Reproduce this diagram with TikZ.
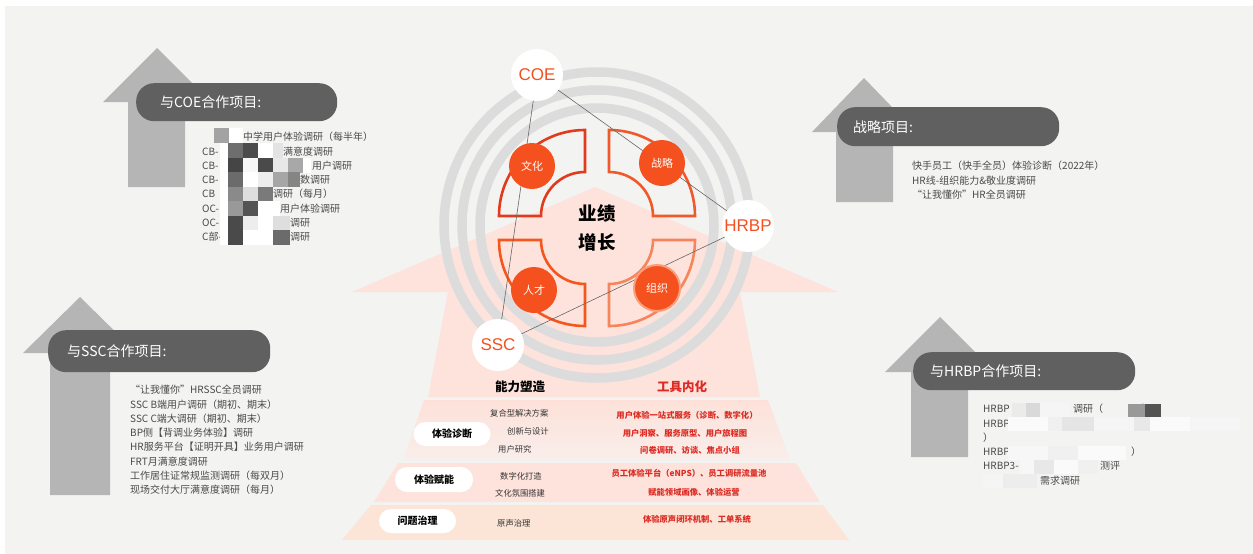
\documentclass[tikz,border=0pt]{standalone}
\usepackage{fontspec}
\setmainfont{Noto Sans CJK SC}
\newfontfamily\latinsans{Liberation Sans}
\pgfdeclarelayer{back}
\pgfdeclarelayer{mid}
\pgfsetlayers{back,mid,main}
\newcommand\fsz[1]{\fontsize{#1pt}{#1pt}\selectfont}
\definecolor{bggray}{HTML}{F3F3F2}
\definecolor{arrowgray}{HTML}{B5B5B5}
\definecolor{pillgray}{HTML}{606060}
\definecolor{pinkbg}{HTML}{FDE3DC}
\definecolor{bandtop}{HTML}{FDE1D9}
\definecolor{bandbot}{HTML}{F9EEEB}
\definecolor{bandpeach}{HTML}{FCE5D7}
\definecolor{ringgray}{HTML}{DCDCDC}
\definecolor{orangec}{HTML}{F4511E}
\definecolor{redtext}{HTML}{DD2A22}
\definecolor{segA}{HTML}{E23A1C}
\definecolor{segB}{HTML}{F05A2A}
\definecolor{segC}{HTML}{F4561D}
\definecolor{segD}{HTML}{F7845A}
\definecolor{halo}{HTML}{F8A07E}
\definecolor{listgray}{HTML}{4A4A4A}
\begin{document}
\begin{tikzpicture}[x=1pt,y=-1pt,
  every node/.style={inner sep=0pt},
  sidearrow/.style={fill=arrowgray},
  pill/.style={rectangle, rounded corners=18pt, fill=pillgray, text=white,
    minimum height=38pt, align=left, font=\fsz{14}, anchor=north west},
  listtext/.style={anchor=north west, align=left, text=listgray,
    font=\fontsize{10pt}{14.3pt}\selectfont},
  ring/.style={draw=ringgray, line width=9.5pt},
  seg/.style={line width=2.6pt, line join=miter},
  bigc/.style={circle, fill=white, minimum size=52pt, text=orangec,
    font=\latinsans\fsz{17}},
  smallc/.style={circle, fill=orangec, minimum size=46pt, text=white,
    font=\fsz{11}},
  conn/.style={draw=black!60, line width=0.6pt},
  wpill/.style={rectangle, rounded corners=12pt, fill=white,
    font=\bfseries\fsz{10}},
  lefttext/.style={anchor=west, text=black!80, font=\fsz{8.3}},
  redt/.style={text=redtext, font=\bfseries\fsz{8.3}},
  coltitle/.style={font=\bfseries\fsz{12.5}}
]
\useasboundingbox (0,0) rectangle (1253,554);

\begin{pgfonlayer}{back}
\fill[bggray] (5,6) rectangle (1253,554);

% side arrows
\fill[sidearrow] (157,48) -- (211,102) -- (185,102) -- (185,187) -- (128,187) -- (128,102) -- (103,102) -- cycle;
\fill[sidearrow] (864,78) -- (916,132) -- (893,132) -- (893,202) -- (836,202) -- (836,132) -- (812,132) -- cycle;
\fill[sidearrow] (80,297) -- (137,353) -- (110,353) -- (110,495) -- (50,495) -- (50,353) -- (23,353) -- cycle;
\fill[sidearrow] (940,317) -- (995,372) -- (968,372) -- (968,457) -- (911,457) -- (911,372) -- (885,372) -- cycle;

% central pink arrow and pyramid bands
\fill[pinkbg] (352,292) -- (595,187) -- (838,292) -- (740,292) -- (760,397) -- (428,397) -- (448,292) -- cycle;
\shade[top color=bandtop, bottom color=bandbot] (424,400) -- (768,400) -- (790,460) -- (403,460) -- cycle;
\fill[pinkbg] (398,463) -- (796,463) -- (820,502) -- (374,502) -- cycle;
\fill[bandpeach] (371,505) -- (823,505) -- (849,540) -- (342,540) -- cycle;

% rings
\draw[ring] (597,225) circle[radius=153];
\draw[ring] (597,225) circle[radius=135];
\draw[ring] (597,225) circle[radius=117];

% four segments
\draw[seg, draw=segA] (585,130) arc[start angle=270, end angle=180, radius=86] -- (541,216) arc[start angle=180, end angle=270, radius=44] -- cycle;
\draw[seg, draw=segB] (609,130) arc[start angle=270, end angle=360, radius=86] -- (653,216) arc[start angle=360, end angle=270, radius=44] -- cycle;
\draw[seg, draw=segC] (499,240) arc[start angle=180, end angle=90, radius=86] -- (585,284) arc[start angle=90, end angle=180, radius=44] -- cycle;
\draw[seg, draw=segD] (609,326) arc[start angle=90, end angle=0, radius=86] -- (653,240) arc[start angle=0, end angle=90, radius=44] -- cycle;
\end{pgfonlayer}

% pills with titles
\node[pill, minimum width=201pt, inner xsep=24pt, text width=153pt] (coepill) at (136,83) {与COE合作项目:};
\node[pill, minimum width=222pt, inner xsep=16pt, text width=190pt, minimum height=39pt] (zlpill) at (837,107) {战略项目:};
\node[pill, minimum width=222pt, inner xsep=19pt, text width=184pt, minimum height=42pt] (sscpill) at (48,330) {与SSC合作项目:};
\node[pill, minimum width=222pt, inner xsep=17pt, text width=188pt] (hrbppill) at (913,352) {与HRBP合作项目:};

% COE list
\node[listtext] (coelist) at (202,132) {%
\makebox[41pt][l]{}中学用户体验调研（每半年）\\
\makebox[81pt][l]{CB-}满意度调研\\
\makebox[110pt][l]{CB-}用户调研\\
\makebox[98pt][l]{CB-}数调研\\
\makebox[71pt][l]{CB}调研（每月）\\
\makebox[78pt][l]{OC-}用户体验调研\\
\makebox[88pt][l]{OC-}调研\\
\makebox[88pt][l]{C部-}调研};
% mosaic over COE list (x/y/width/grey level)
\foreach \xx/\yy/\ww/\cc in {214/128/15/36,229/128/14/0,
  220/143/8/0,228/143/15/57,243/143/15/70,258/143/15/0,273/143/10/11,
  220/158/8/0,228/158/15/73,243/158/15/3,258/158/15/71,273/158/15/9,288/158/15/34,303/158/8/0,
  220/172/8/0,228/172/15/58,243/172/15/0,258/172/15/7,273/172/15/35,288/172/12/48,
  220/187/8/0,228/187/15/46,243/187/15/13,258/187/15/52,
  220/201/8/0,228/201/15/40,243/201/15/67,258/201/22/0,
  220/216/8/0,228/216/15/71,243/216/15/7,258/216/15/0,273/216/17/13,
  220/230/8/0,228/230/15/71,243/230/30/0,273/230/17/58}
  \fill[black!\cc] (\xx,\yy) rectangle ++(\ww,14.5);

% strategy list
\node[listtext] (zllist) at (912,161) {%
快手员工（快手全员）体验诊断（2022年）\\
HR线-组织能力\&敬业度调研\\
“让我懂你”HR全员调研};

% SSC list
\node[listtext] (ssclist) at (130,385) {%
“让我懂你”HRSSC全员调研\\
SSC B端用户调研（期初、期末）\\
SSC C端大调研（期初、期末）\\
BP侧【背调业务体验】调研\\
HR服务平台【证明开具】业务用户调研\\
FRT月满意度调研\\
工作居住证常规监测调研（每双月）\\
现场交付大厅满意度调研（每月）};

% HRBP list
\node[listtext] (hrbplist) at (983,404) {%
\makebox[90pt][l]{HRBP}调研（\makebox[39pt][l]{}）\\
HRBP\\
）\\
\makebox[148pt][l]{HRBP}）\\
\makebox[117pt][l]{HRBP3-}测评\\
\makebox[57pt][l]{}需求调研};
% mosaic over HRBP list
\foreach \xx/\yy/\ww/\cc in {1012/403/14/8,1026/403/14/15,1040/403/30/4,
  1128/404/17/40,1145/404/16/67,
  1008/417/40/2,1048/417/14/6,1062/417/32/10,1094/417/40/4,1134/417/16/9,1150/417/40/2,1190/417/50/4,
  1008/446/40/3,1048/446/30/6,1078/446/48/2,
  1020/460/14/3,1034/460/20/9,1054/460/24/2,1078/460/20/6,
  983/474/20/4,1003/474/34/7}
  \fill[black!\cc] (\xx,\yy) rectangle ++(\ww,13.5);

% center circles
\node[smallc] (wenhua) at (532,166) {文化};
\node[smallc] (zhanlue) at (662,163) {战略};
\node[smallc] (rencai) at (534,290) {人才};
\node[smallc, draw=halo, line width=2pt] (zuzhi) at (657,288) {组织};
\node[font=\bfseries\fontsize{18.5pt}{29pt}\selectfont, align=center] (yeji) at (597,228) {业绩\\增长};

\node[bigc] (coe) at (537,75) {COE};
\node[bigc] (hrbp) at (748,226) {HRBP};
\node[bigc] (ssc) at (498,345) {SSC};

\begin{pgfonlayer}{mid}
\draw[conn] (coe.center) -- (ssc.center);
\draw[conn] (coe.center) -- (hrbp.center);
\draw[conn] (ssc.center) -- (hrbp.center);
\end{pgfonlayer}

% pyramid texts
\node[coltitle] (nlsz) at (520,387) {能力塑造};
\node[coltitle, text=redtext] (gjnh) at (682,387) {工具内化};

\node[wpill, minimum width=77pt, minimum height=24pt] (tyzd) at (452,434) {体验诊断};
\node[wpill, minimum width=78pt, minimum height=25pt] (tyfn) at (434,479.5) {体验赋能};
\node[wpill, minimum width=77pt, minimum height=24pt] (wtzl) at (417.5,521) {问题治理};

\node[lefttext] (l1) at (490,413) {复合型解决方案};
\node[lefttext] (l2) at (507,431) {创新与设计};
\node[lefttext] (l3) at (498,449) {用户研究};
\node[lefttext] (l4) at (500,476) {数字化打造};
\node[lefttext] (l5) at (495,493) {文化氛围搭建};
\node[lefttext] (l6) at (497,523) {原声治理};

\node[redt] (r1) at (687,415) {用户体验一站式服务（诊断、数字化）};
\node[redt] (r2) at (685,433) {用户洞察、服务原型、用户旅程图};
\node[redt] (r3) at (690,450) {问卷调研、访谈、焦点小组};
\node[redt] (r4) at (689,473) {员工体验平台（eNPS）、员工调研流量池};
\node[redt] (r5) at (694,492) {赋能领域画像、体验运营};
\node[redt] (r6) at (697,519) {体验原声闭环机制、工单系统};
\end{tikzpicture}
\end{document}
